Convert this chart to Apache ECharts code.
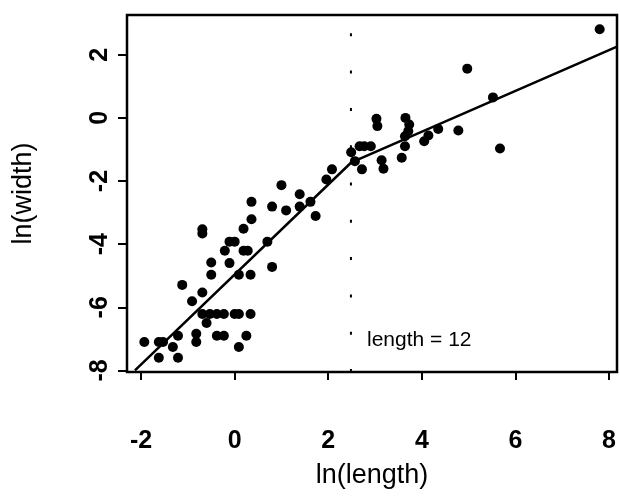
<!DOCTYPE html>
<html>
<head>
<meta charset="utf-8">
<script src="https://cdn.jsdelivr.net/npm/echarts@6/dist/echarts.min.js"></script>
<style>html,body{margin:0;padding:0;background:#fff}#c{width:620px;height:497px}</style>
</head>
<body>
<div id="c"></div>
<script>
// ln(length) values
var lnLength = [-1.93,-1.62,-1.53,-1.62,-1.32,-1.21,-1.21,-1.12,-0.91,-0.82,-0.82,-0.69,-0.69,-0.69,-0.60,
  -0.69,-0.53,-0.38,-0.23,0.00,0.09,0.34,
  -0.38,-0.23,0.09,0.25,-0.50,-0.50,-0.21,-0.11,-0.11,0.00,0.09,0.19,0.19,0.28,0.34,0.36,0.36,
  0.70,0.80,0.80,1.00,1.10,1.39,1.39,1.62,1.73,1.96,2.08,
  2.49,2.57,2.67,2.77,2.91,2.72,3.03,3.05,3.14,3.18,3.57,3.64,3.64,3.65,3.73,3.71,4.05,4.14,4.35,4.78,
  4.97,5.52,5.67,7.80];
// ln(width) values
var lnWidth = [-7.10,-7.10,-7.10,-7.60,-7.26,-6.90,-7.60,-5.29,-5.81,-6.84,-7.10,-5.53,-3.53,-3.66,-6.50,
  -6.21,-6.21,-6.21,-6.21,-6.21,-6.21,-6.21,
  -6.90,-6.90,-7.26,-6.90,-4.58,-4.97,-4.21,-4.60,-3.92,-3.92,-4.97,-3.51,-4.21,-4.21,-4.97,-3.21,-2.66,
  -3.92,-4.72,-2.81,-2.13,-2.93,-2.42,-2.81,-2.66,-3.11,-1.95,-1.63,
  -1.09,-1.37,-0.90,-0.90,-0.90,-1.63,-0.03,-0.26,-1.34,-1.61,-1.26,-0.90,-0.58,0.00,-0.21,-0.42,-0.74,-0.56,-0.35,-0.40,
  1.56,0.65,-0.97,2.81];
// broken-stick fit
var fitX = [-2.13, 2.485, 8.17];
var fitY = [-8.00, -1.42, 2.26];
// reference line at length = 12
var refX = [2.485, 2.485];
var refY = [-8.05, 3.26];
var refLabel = 'length = 12';
var xTicks = [-2, 0, 2, 4, 6, 8];
var yTicks = [-8, -6, -4, -2, 0, 2];

var points = lnLength.map(function (x, i) { return [x, lnWidth[i]]; });
var fitLine = fitX.map(function (x, i) { return [x, fitY[i]]; });
var refLine = refX.map(function (x, i) { return [x, refY[i]]; });

var font = 'Liberation Sans, Arial, Helvetica, sans-serif';
var chart = echarts.init(document.getElementById('c'), null, { renderer: 'canvas' });
chart.setOption({
  animation: false,
  backgroundColor: '#fff',
  grid: { left: 127, right: 3, top: 15, bottom: 125, show: true, borderColor: '#000', borderWidth: 2.5, backgroundColor: 'transparent' },
  xAxis: {
    type: 'value', min: -2.3, max: 8.17,
    name: 'ln(length)', nameLocation: 'middle', nameGap: 90,
    nameTextStyle: { fontFamily: font, fontSize: 27, color: '#000' },
    axisLine: { show: false, onZero: false },
    splitLine: { show: false },
    axisTick: { show: true, length: 8, lineStyle: { color: '#000', width: 2 }, customValues: xTicks },
    axisLabel: { customValues: xTicks, margin: 57, fontFamily: font, fontSize: 25, fontWeight: 'bold', color: '#000' }
  },
  yAxis: {
    type: 'value', min: -8.05, max: 3.26,
    name: 'ln(width)', nameLocation: 'middle', nameGap: 90, nameRotate: 90,
    nameTextStyle: { fontFamily: font, fontSize: 27, color: '#000' },
    axisLine: { show: false, onZero: false },
    splitLine: { show: false },
    axisTick: { show: true, length: 9, lineStyle: { color: '#000', width: 2 }, customValues: yTicks },
    axisLabel: { customValues: yTicks, rotate: 90, margin: 14, fontFamily: font, fontSize: 25, fontWeight: 'bold', color: '#000' }
  },
  series: [
    { type: 'scatter', data: points, symbolSize: 10, itemStyle: { color: '#000', opacity: 1 }, z: 3 },
    { type: 'line', data: fitLine, symbol: 'none', lineStyle: { color: '#000', width: 2.5 }, z: 2 },
    { type: 'line', data: refLine, symbol: 'none', lineStyle: { color: '#000', width: 2, type: [3, 34.3] }, z: 2 }
  ],
  graphic: [
    { type: 'text', left: 367, top: 330, style: { text: refLabel, fontFamily: font, fontSize: 21, fill: '#000' } }
  ]
});
</script>
</body>
</html>
